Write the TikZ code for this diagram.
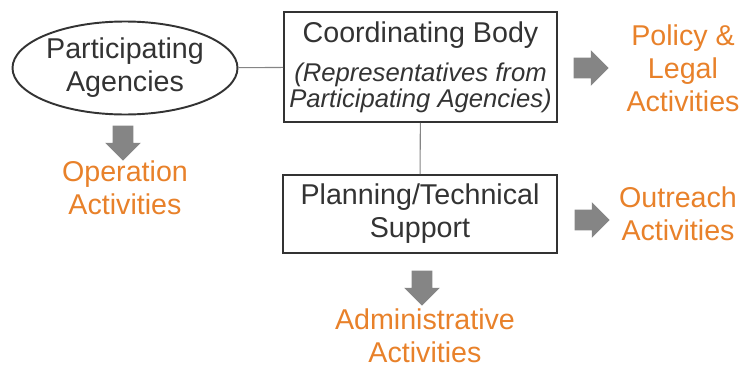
\documentclass[tikz,border=0pt]{standalone}
\usepackage{fontspec}
\setmainfont{Liberation Sans}
\usetikzlibrary{shapes.geometric, shapes.arrows}
\definecolor{txtgray}{HTML}{333333}
\definecolor{actorange}{HTML}{E8812A}
\definecolor{arrgray}{HTML}{858585}

\begin{document}
\begin{tikzpicture}[
		bodytext/.style={font=\fontsize{16.3}{18.7}\selectfont, text=txtgray, align=center},
		acttext/.style={font=\fontsize{16.3}{18.7}\selectfont, text=actorange, align=center},
		unitbox/.style={draw=txtgray, line width=1.1pt, rectangle, inner sep=0pt},
		blockarrow/.style={single arrow, fill=arrgray, draw=none, inner sep=0.2cm, minimum height=0.7cm, single arrow head extend=0.15cm}
	]
		\path[use as bounding box] (0, 0) rectangle (14.86, 7.38);
		\node[bodytext, draw=txtgray, line width=1.1pt, ellipse, minimum width=4.5cm, minimum height=1.86cm, inner sep=0pt]  (PA) at (2.5, 6.02) {Participating\\Agencies};
		\node[unitbox, minimum width=5.46cm, minimum height=2.2cm]  (CB) at (8.41, 6.04) {};
		\node[bodytext]  (CBT) at (8.41, 6.68) {Coordinating Body};
		\node[bodytext, font=\itshape\fontsize{14.6}{14.8}\selectfont]  (CBR) at (8.41, 5.63) {(Representatives from\\Participating Agencies)};
		\node[unitbox, bodytext, minimum width=5.48cm, minimum height=1.56cm]  (PT) at (8.4, 3.1) {Planning/Technical\\Support};
		
		\draw[arrgray, line width=0.6pt] (PA) to (CB);
		\draw[arrgray, line width=0.6pt] (CB) to (PT);
		
		\node[blockarrow]  (A1) at (11.72, 6.02) {};
		\node[blockarrow]  (A2) at (11.74, 2.98) {};
		\node[blockarrow, shape border rotate=270]  (A3) at (2.46, 4.62) {};
		\node[blockarrow, shape border rotate=270]  (A4) at (8.44, 1.72) {};
		
		\node[acttext]  (PL) at (13.66, 6.02) {Policy \&\\Legal\\Activities};
		\node[acttext]  (OA) at (2.5, 3.62) {Operation\\Activities};
		\node[acttext]  (OR) at (13.56, 3.1) {Outreach\\Activities};
		\node[acttext]  (AA) at (8.5, 0.66) {Administrative\\Activities};

	\end{tikzpicture}
\end{document}
